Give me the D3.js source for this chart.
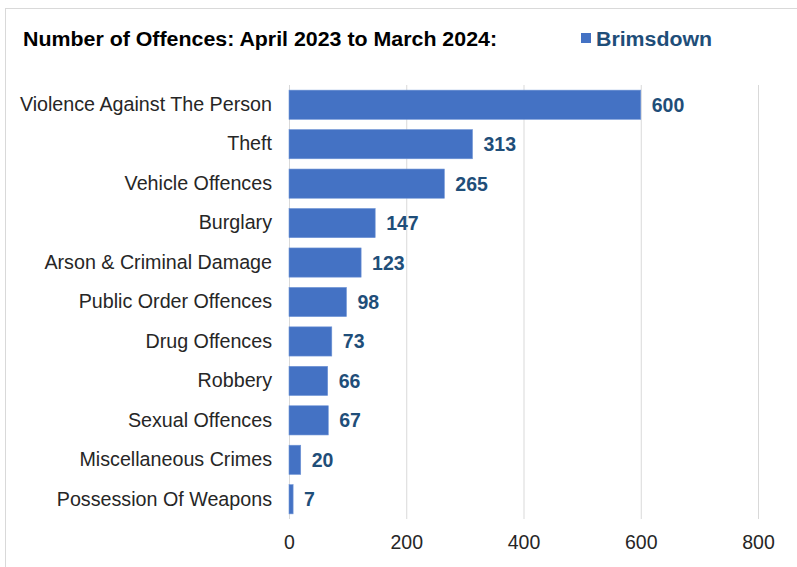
<!DOCTYPE html>
<html><head><meta charset="utf-8">
<script src="https://cdn.jsdelivr.net/npm/d3@7"></script>
<style>body{margin:0;background:#fff;} svg{display:block;font-family:"Liberation Sans",Arial,sans-serif;}</style>
</head><body>
<svg id="c" width="797" height="567"></svg>
<script>
const categories = ["Violence Against The Person","Theft","Vehicle Offences","Burglary","Arson & Criminal Damage","Public Order Offences","Drug Offences","Robbery","Sexual Offences","Miscellaneous Crimes","Possession Of Weapons"];
const values = [600,313,265,147,123,98,73,66,67,20,7];
const ticks = [0,200,400,600,800];
const seriesName = "Brimsdown";
const title = "Number of Offences: April 2023 to March 2024:";

const svg = d3.select("#c");
// panel border
svg.append("rect").attr("x",5.5).attr("y",8.5).attr("width",820).attr("height",600)
  .attr("fill","#fff").attr("stroke","#d9d9d9");

const x = d3.scaleLinear().domain([0,800]).range([289,758]);
const y = d3.scaleBand().domain(categories).range([85,519]).paddingInner(0.26).paddingOuter(0.13);

// gridlines
svg.append("g").selectAll("line").data(ticks).join("line")
  .attr("x1",d=>x(d)+0.5).attr("x2",d=>x(d)+0.5).attr("y1",85).attr("y2",519)
  .attr("stroke","#d9d9d9").attr("stroke-width",1);

// bars
svg.append("g").selectAll("rect").data(values).join("rect")
  .attr("x",x(0)).attr("y",(d,i)=>y(categories[i]))
  .attr("width",d=>x(d)-x(0)).attr("height",y.bandwidth())
  .attr("fill","#4472c4").attr("stroke","#6f94d6").attr("stroke-width",0.6);

// value labels
svg.append("g").selectAll("text").data(values).join("text")
  .attr("x",d=>x(d)+11).attr("y",(d,i)=>y(categories[i])+y.bandwidth()/2)
  .attr("dy","0.36em").attr("font-size",19.5).attr("font-weight","bold").attr("fill","#1f4e79")
  .text(d=>d);

// category axis
const yAxis = d3.axisLeft(y).tickSize(0).tickPadding(17);
const gy = svg.append("g").attr("transform","translate(289,0)").call(yAxis);
gy.select(".domain").remove();
gy.selectAll("text").attr("font-size",19.7).attr("fill","#262626").attr("font-family","Liberation Sans,Arial,sans-serif");

// x axis
const xAxis = d3.axisBottom(x).tickValues(ticks).tickSize(0).tickPadding(0);
const gx = svg.append("g").attr("transform","translate(0,549)").call(xAxis);
gx.select(".domain").remove();
gx.selectAll("text").attr("dy",0).attr("font-size",19.5).attr("fill","#262626").attr("font-family","Liberation Sans,Arial,sans-serif");

// title
svg.append("text").attr("x",23).attr("y",46).attr("font-size",20).attr("font-weight","bold")
  .attr("fill","#000").attr("textLength",474).attr("lengthAdjust","spacingAndGlyphs").text(title);
// legend
svg.append("rect").attr("x",581).attr("y",33).attr("width",10).attr("height",10).attr("fill","#4472c4");
svg.append("text").attr("x",596).attr("y",46).attr("font-size",20).attr("font-weight","bold")
  .attr("fill","#1f4e79").attr("textLength",116).attr("lengthAdjust","spacingAndGlyphs").text(seriesName);
</script>
</body></html>
